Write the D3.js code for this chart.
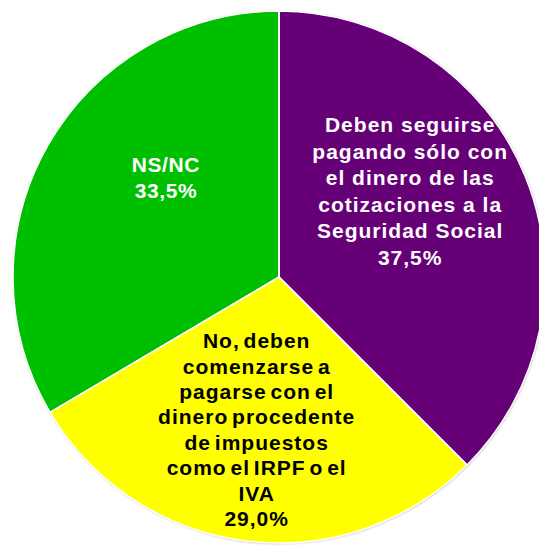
<!DOCTYPE html>
<html>
<head>
<meta charset="utf-8">
<script src="https://cdn.jsdelivr.net/npm/d3@7"></script>
<style>
  html, body { margin: 0; padding: 0; background: #fff; }
  svg { display: block; }
</style>
</head>
<body>
<svg id="chart" width="539" height="546"></svg>
<script>
// data
const categories = [
  'Deben seguirse pagando sólo con el dinero de las cotizaciones a la Seguridad Social',
  'No, deben comenzarse a pagarse con el dinero procedente de impuestos como el IRPF o el IVA',
  'NS/NC'
];
const values = [37.5, 29.0, 33.5];
const labelLines = [
  ['Deben seguirse', 'pagando sólo con', 'el dinero de las', 'cotizaciones a la', 'Seguridad Social'],
  ['No, deben', 'comenzarse a', 'pagarse con el', 'dinero procedente', 'de impuestos', 'como el IRPF o el', 'IVA'],
  ['NS/NC']
];
const colors = ['#660077', '#FFFF00', '#00BF00'];
const textColors = ['#ffffff', '#000000', '#ffffff'];

const width = 539, height = 546;
const cx = 279, cy = 277, radius = 266;

const svg = d3.select('#chart');

const defs = svg.append('defs');
const shadow = defs.append('filter').attr('id', 'shadow')
  .attr('x', '-10%').attr('y', '-10%').attr('width', '120%').attr('height', '120%');
shadow.append('feDropShadow')
  .attr('dx', 0.5).attr('dy', 0.5)
  .attr('stdDeviation', 1.2)
  .attr('flood-color', '#777')
  .attr('flood-opacity', 0.7);

const g = svg.append('g').attr('transform', `translate(${cx},${cy})`);

const pie = d3.pie().sort(null).value(d => d);
const arcs = pie(values);

const arc = d3.arc().innerRadius(0).outerRadius(radius);
const labelArc = d3.arc().innerRadius(radius * 0.55).outerRadius(radius * 0.55);

g.append('g')
  .attr('filter', 'url(#shadow)')
  .selectAll('path')
  .data(arcs)
  .join('path')
  .attr('d', arc)
  .attr('fill', (d, i) => colors[i]);

g.append('g')
  .selectAll('path')
  .data(arcs)
  .join('path')
  .attr('d', arc)
  .attr('fill', 'none')
  .attr('stroke', '#fff')
  .attr('stroke-width', 1.5)
  .attr('stroke-linejoin', 'round');

// label tweaks relative to the centroid
const labelShift = [[-4, -89], [-4, -74], [14, -33]];
const lineHeight = [26.6, 25.4, 26];
const letterSp = [1, 1, 0.6];
const wordSp = [0, -3, 0];

const fmt = v => v.toFixed(1).replace('.', ',') + '%';

arcs.forEach((d, i) => {
  const [x, y] = labelArc.centroid(d);
  const lines = labelLines[i].concat([fmt(values[i])]);
  const text = g.append('text')
    .attr('x', x + labelShift[i][0])
    .attr('y', y + labelShift[i][1])
    .attr('text-anchor', 'middle')
    .attr('font-family', '"Liberation Sans", Arial, sans-serif')
    .attr('font-weight', 'bold')
    .attr('font-size', 21)
    .attr('letter-spacing', letterSp[i])
    .attr('word-spacing', wordSp[i])
    .attr('fill', textColors[i]);
  text.selectAll('tspan')
    .data(lines)
    .join('tspan')
    .attr('x', x + labelShift[i][0])
    .attr('dy', (l, j) => j === 0 ? 0 : lineHeight[i])
    .text(l => l);
});
</script>
</body>
</html>
